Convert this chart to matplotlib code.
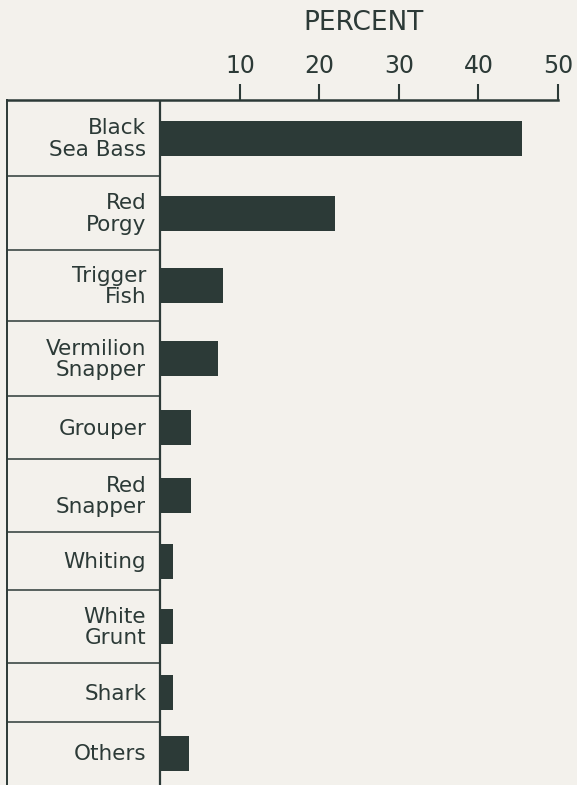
import numpy as np
import matplotlib
matplotlib.use("Agg")
import matplotlib.pyplot as plt

# Catch composition (percent of total)
species = ["Black\nSea Bass", "Red\nPorgy", "Trigger\nFish", "Vermilion\nSnapper",
           "Grouper", "Red\nSnapper", "Whiting", "White\nGrunt", "Shark", "Others"]
percent = [45.5, 22.0, 7.9, 7.2, 3.9, 3.9, 1.6, 1.6, 1.6, 3.6]
ticks = [10, 20, 30, 40, 50]

# layout (pixel rows of the label box)
W, H = 577, 785
top_px = 100
row_px = [76, 74, 71, 75, 63, 73, 58, 73, 59, 63]
ink = "#2c3a37"
paper = "#f3f1ec"

bounds = top_px + np.concatenate([[0], np.cumsum(row_px)])
centers = (bounds[:-1] + bounds[1:]) / 2

x_left = -19.3
fig = plt.figure(figsize=(W / 100, H / 100), dpi=100, facecolor=paper)
ax = fig.add_axes([7 / W, 0, (558 - 7) / W, 1 - top_px / H])
ax.set_facecolor(paper)

ax.barh(centers, percent, height=35, color=ink, zorder=3)

ax.set_xlim(x_left, 50)
ax.set_ylim(H, top_px)

# label box
ax.axvline(0, color=ink, lw=1.6, zorder=4)
ax.hlines(bounds[1:-1], x_left, 0, color=ink, lw=1.1)
for c, name in zip(centers, species):
    ax.text(-1.8, c + 1, name, ha="right", va="center", fontsize=15.5,
            color=ink, linespacing=1.1)

for side in ["right", "bottom"]:
    ax.spines[side].set_visible(False)
ax.spines["top"].set_linewidth(1.8)
ax.spines["top"].set_color(ink)
ax.spines["left"].set_linewidth(1.4)
ax.spines["left"].set_color(ink)

ax.xaxis.tick_top()
ax.set_xticks(ticks)
ax.set_xticklabels([str(t) for t in ticks])
ax.tick_params(axis="x", direction="out", length=11.5, width=1.5, color=ink,
               labelsize=17, labelcolor=ink, pad=4)
ax.set_yticks([])

fig.text(364 / W, 1 - 23 / H, "PERCENT", ha="center", va="center",
         fontsize=19, color=ink)

plt.savefig("out.png", dpi=100, facecolor=paper)
plt.close(fig)
